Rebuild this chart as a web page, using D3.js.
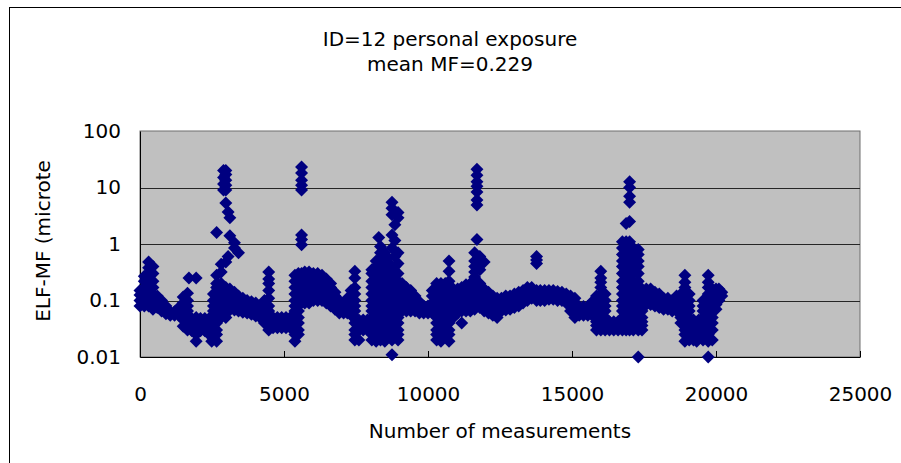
<!DOCTYPE html>
<html>
<head>
<meta charset="utf-8">
<script src="https://cdn.jsdelivr.net/npm/d3@7"></script>
<style>
  html, body { margin: 0; padding: 0; background: #fff; }
  svg { display: block; font-family: "DejaVu Sans", sans-serif; }
</style>
</head>
<body>
<svg id="chart" width="901" height="463"></svg>
<script>
// Text of the chart
const titleLines = ["ID=12 personal exposure", "mean MF=0.229"];
const xTitle = "Number of measurements";
const yTitle = "ELF-MF (microte";

// Axis ticks
const xTicks = [0, 5000, 10000, 15000, 20000, 25000];
const yTicks = [0.01, 0.1, 1, 10, 100];
const yTickLabels = ["0.01", "0.1", "1", "10", "100"];

// Recorded magnetic field readings (microtesla), grouped by measurement number:
// [measurement number, [readings logged around that number]]
const mfRun1 = [
  [0, [0.08, 0.1, 0.125, 0.15]],
  [150, [0.08, 0.1, 0.13, 0.17, 0.22, 0.27]],
  [300, [0.08, 0.1, 0.13, 0.17, 0.22, 0.3, 0.38, 0.48]],
  [450, [0.07, 0.085, 0.1, 0.13, 0.17, 0.22, 0.3, 0.4]],
  [600, [0.075, 0.095, 0.12]],
  [750, [0.065, 0.08, 0.1]],
  [900, [0.058, 0.07, 0.08]],
  [1050, [0.055, 0.063]],
  [1200, [0.055, 0.063]],
  [1350, [0.055, 0.065, 0.075]],
  [1500, [0.035, 0.045, 0.055, 0.07, 0.09, 0.115]],
  [1650, [0.03, 0.04, 0.05, 0.065, 0.08, 0.1, 0.135]],
  [1700, [0.25]],
  [1800, [0.029, 0.038, 0.048]],
  [1950, [0.019, 0.025, 0.03, 0.04, 0.05, 0.25]],
  [2100, [0.029, 0.038, 0.048]],
  [2250, [0.029, 0.038, 0.048]],
  [2400, [0.025, 0.03, 0.04, 0.048]],
  [2490, [0.019]],
  [2550, [0.025, 0.03, 0.04, 0.05, 0.065, 0.08, 0.1, 0.13]],
  [2660, [0.019, 0.025, 0.03, 0.04, 0.05, 0.065, 0.08, 0.1, 0.13, 0.17, 0.2, 0.28, 1.6]],
  [2820, [0.05, 0.065, 0.08, 0.1, 0.13, 0.17, 0.2, 0.32, 0.44]],
  [2900, [9, 11.5, 15, 20]],
  [2980, [0.05, 0.065, 0.08, 0.1, 0.13, 0.17, 0.48, 5.3, 9, 11, 13.5, 17, 20]],
  [3060, [3.7, 0.6]],
  [3120, [0.068, 0.085, 0.1, 0.13, 0.16, 1.4, 2.9]],
  [3280, [0.068, 0.085, 0.11, 0.14, 0.85, 1.05]],
  [3420, [0.065, 0.08, 0.1, 0.12, 0.7]],
  [3570, [0.062, 0.077, 0.095, 0.11]],
  [3720, [0.06, 0.075, 0.09, 0.1]],
  [3870, [0.057, 0.07, 0.085, 0.095]],
  [4020, [0.053, 0.065, 0.08, 0.09]],
  [4170, [0.05, 0.062, 0.075]],
  [4320, [0.04, 0.05, 0.065, 0.08, 0.1]],
  [4470, [0.03, 0.04, 0.05, 0.065, 0.08, 0.11, 0.15, 0.2, 0.24, 0.32]],
  [4620, [0.033, 0.04, 0.05]],
  [4770, [0.033, 0.04, 0.05]],
  [4920, [0.033, 0.04, 0.05]]
];

const mfRun2 = [
  [5070, [0.033, 0.04, 0.05]],
  [5220, [0.033, 0.04, 0.05]],
  [5380, [0.019, 0.025, 0.03, 0.04, 0.05, 0.065, 0.08, 0.1, 0.13, 0.17, 0.22, 0.28]],
  [5500, [0.025, 0.03, 0.04, 0.05, 0.065, 0.08, 0.1, 0.13, 0.17, 0.22, 0.3]],
  [5610, [0.1, 0.13, 0.17, 0.22, 0.3, 0.97, 1.2, 1.45, 9, 11, 13.5, 18, 23]],
  [5720, [0.09, 0.12, 0.15, 0.2, 0.26, 0.32]],
  [5870, [0.09, 0.12, 0.15, 0.2, 0.26, 0.32]],
  [6020, [0.1, 0.13, 0.17, 0.22, 0.3]],
  [6170, [0.1, 0.13, 0.17, 0.22, 0.3]],
  [6320, [0.1, 0.13, 0.17, 0.22, 0.28]],
  [6470, [0.09, 0.12, 0.15, 0.2, 0.24]],
  [6620, [0.08, 0.1, 0.13, 0.17, 0.2]],
  [6770, [0.07, 0.09, 0.12, 0.14]],
  [6920, [0.06, 0.075, 0.09, 0.1]],
  [7070, [0.06, 0.07, 0.082]],
  [7200, [0.06, 0.075, 0.09, 0.11]],
  [7330, [0.055, 0.07, 0.09, 0.12, 0.15]],
  [7460, [0.02, 0.025, 0.03, 0.04, 0.05, 0.065, 0.08, 0.1, 0.13, 0.17, 0.25, 0.33]],
  [7600, [0.02, 0.03, 0.037, 0.045]],
  [7750, [0.03, 0.037, 0.045]],
  [7900, [0.03, 0.037, 0.045]],
  [8050, [0.02, 0.025, 0.03, 0.04, 0.05, 0.065, 0.08, 0.1, 0.13, 0.17, 0.22, 0.3, 0.35]],
  [8200, [0.019, 0.025, 0.03, 0.04, 0.05, 0.065, 0.08, 0.1, 0.13, 0.17, 0.22, 0.3, 0.4, 0.5]],
  [8290, [1.3]],
  [8350, [0.02, 0.025, 0.03, 0.04, 0.05, 0.065, 0.08, 0.1, 0.13, 0.17, 0.22, 0.3, 0.4, 0.55, 0.7, 0.9]],
  [8500, [0.019, 0.025, 0.03, 0.04, 0.05, 0.065, 0.08, 0.1, 0.13, 0.17, 0.22, 0.3, 0.4, 0.5, 0.7]],
  [8630, [0.025, 0.03, 0.04, 0.05, 0.065, 0.08, 0.1, 0.13, 0.17, 0.22, 0.3, 0.37, 0.56]],
  [8750, [0.011, 0.02, 0.025, 0.03, 0.04, 0.05, 0.065, 0.08, 0.1, 0.13, 0.17, 0.22, 0.3, 0.4, 0.85, 1.45, 3.3, 4.3, 5.5]],
  [8850, [0.025, 0.03, 0.04, 0.05, 0.065, 0.08, 0.1, 0.13, 0.17, 0.22, 0.3, 0.4, 0.6, 1.15, 2.2]],
  [8960, [0.02, 0.025, 0.03, 0.04, 0.05, 0.065, 0.08, 0.1, 0.13, 0.17, 0.22, 0.3, 0.45, 0.7, 2.9, 3.6]],
  [9100, [0.065, 0.08, 0.1, 0.13, 0.17, 0.2]],
  [9250, [0.065, 0.08, 0.1, 0.13, 0.17]],
  [9400, [0.065, 0.08, 0.1, 0.13, 0.15]],
  [9550, [0.065, 0.08, 0.1, 0.12]],
  [9700, [0.06, 0.07, 0.08, 0.095]],
  [9850, [0.06, 0.07, 0.08]],
  [10000, [0.06, 0.07, 0.08]]
];

const mfRun3 = [
  [10150, [0.06, 0.075, 0.09, 0.12, 0.15]],
  [10300, [0.02, 0.025, 0.03, 0.04, 0.05, 0.065, 0.08, 0.1, 0.13, 0.17, 0.2]],
  [10450, [0.019, 0.025, 0.03, 0.04, 0.05, 0.065, 0.08, 0.1, 0.13, 0.17, 0.2]],
  [10600, [0.025, 0.03, 0.04, 0.05, 0.065, 0.08, 0.1, 0.13, 0.17, 0.2]],
  [10730, [0.019, 0.025, 0.03, 0.04, 0.05, 0.065, 0.08, 0.1, 0.13, 0.17, 0.22, 0.33, 0.5]],
  [10880, [0.05, 0.065, 0.08, 0.1, 0.13, 0.16]],
  [11030, [0.06, 0.08, 0.1, 0.13, 0.16]],
  [11170, [0.04, 0.065, 0.08, 0.1, 0.13, 0.17]],
  [11320, [0.065, 0.08, 0.1, 0.13, 0.17, 0.19]],
  [11470, [0.065, 0.08, 0.1, 0.13, 0.17, 0.2]],
  [11620, [0.07, 0.09, 0.12, 0.15, 0.2, 0.26, 0.32, 0.4, 0.5, 0.7]],
  [11700, [1.2, 4.9, 6.0, 8.3, 10.5, 12.6, 16.5, 21]],
  [11800, [0.075, 0.09, 0.12, 0.15, 0.2, 0.35, 0.45, 0.6]],
  [11950, [0.065, 0.08, 0.1, 0.13, 0.16, 0.48]],
  [12100, [0.06, 0.075, 0.09, 0.12, 0.14]],
  [12250, [0.055, 0.065, 0.08, 0.1, 0.12]],
  [12400, [0.05, 0.06, 0.075, 0.09, 0.11]],
  [12550, [0.065, 0.08, 0.1, 0.11]],
  [12700, [0.068, 0.08, 0.1, 0.12]],
  [12850, [0.07, 0.085, 0.1, 0.12]],
  [13000, [0.075, 0.09, 0.11, 0.13]],
  [13150, [0.08, 0.1, 0.12, 0.14]],
  [13300, [0.09, 0.11, 0.13, 0.15]],
  [13450, [0.1, 0.12, 0.14, 0.17]],
  [13600, [0.11, 0.13, 0.15, 0.17]],
  [13770, [0.1, 0.12, 0.15, 0.45, 0.52, 0.6]],
  [13900, [0.1, 0.12, 0.15]],
  [14050, [0.1, 0.12, 0.15]],
  [14200, [0.105, 0.125, 0.15]],
  [14350, [0.105, 0.125, 0.15]],
  [14500, [0.1, 0.12, 0.145]],
  [14650, [0.1, 0.12, 0.14]],
  [14800, [0.09, 0.11, 0.13]],
  [14950, [0.065, 0.08, 0.1, 0.12]]
];

const mfRun4 = [
  [15100, [0.05, 0.06, 0.075, 0.09, 0.11]],
  [15250, [0.055, 0.065, 0.078]],
  [15400, [0.055, 0.065, 0.078]],
  [15550, [0.055, 0.065, 0.078]],
  [15700, [0.055, 0.065, 0.08, 0.095]],
  [15850, [0.03, 0.036, 0.042, 0.05, 0.065, 0.08, 0.1, 0.12]],
  [16000, [0.03, 0.036, 0.042, 0.05, 0.065, 0.08, 0.1, 0.13, 0.17, 0.21, 0.25, 0.33]],
  [16150, [0.03, 0.036, 0.042, 0.05, 0.065, 0.08, 0.1, 0.13]],
  [16300, [0.03, 0.036, 0.042]],
  [16450, [0.03, 0.036, 0.042]],
  [16600, [0.03, 0.036, 0.042]],
  [16750, [0.03, 0.036, 0.042, 0.05, 0.065, 0.08, 0.1, 0.13, 0.17, 0.22, 0.3, 0.4, 0.5, 0.65, 0.85, 1.1]],
  [16880, [0.03, 0.036, 0.042, 0.05, 0.065, 0.08, 0.1, 0.13, 0.17, 0.22, 0.3, 0.4, 0.5, 0.65, 0.85, 1.1, 2.3]],
  [17000, [0.03, 0.036, 0.042, 0.05, 0.065, 0.08, 0.1, 0.13, 0.17, 0.22, 0.3, 0.4, 0.5, 0.65, 0.85, 1.1, 2.5, 5.5, 7, 10, 12.6]],
  [17130, [0.03, 0.036, 0.042, 0.05, 0.065, 0.08, 0.1, 0.13, 0.17, 0.22, 0.3, 0.4, 0.5, 0.65, 0.85]],
  [17300, [0.01, 0.03, 0.036, 0.042, 0.05, 0.065, 0.08, 0.1, 0.13, 0.17, 0.22, 0.3, 0.4, 0.5, 0.65, 0.8]],
  [17430, [0.03, 0.036, 0.042, 0.05, 0.065, 0.085, 0.1, 0.13, 0.16]],
  [17580, [0.085, 0.1, 0.13, 0.16]],
  [17730, [0.085, 0.1, 0.13, 0.16]],
  [17880, [0.08, 0.095, 0.11, 0.14]],
  [18030, [0.075, 0.09, 0.11, 0.13]],
  [18180, [0.07, 0.085, 0.1, 0.11]],
  [18330, [0.07, 0.085, 0.1, 0.11]],
  [18480, [0.065, 0.08, 0.1]],
  [18630, [0.065, 0.08, 0.1, 0.12]],
  [18780, [0.04, 0.05, 0.065, 0.08, 0.1, 0.13]],
  [18920, [0.019, 0.025, 0.03, 0.04, 0.05, 0.065, 0.08, 0.1, 0.13, 0.17, 0.21, 0.28]],
  [19070, [0.02, 0.025, 0.03, 0.04, 0.05, 0.065, 0.08, 0.1, 0.13]],
  [19220, [0.02, 0.025, 0.03, 0.035, 0.045]],
  [19330, [0.019]],
  [19400, [0.025, 0.03, 0.035, 0.045]],
  [19550, [0.02, 0.025, 0.03, 0.04, 0.05, 0.065, 0.08, 0.1]],
  [19730, [0.01, 0.019, 0.025, 0.03, 0.04, 0.05, 0.065, 0.08, 0.1, 0.13, 0.17, 0.21, 0.28]],
  [19870, [0.02, 0.03, 0.04, 0.05, 0.065, 0.08, 0.1, 0.13, 0.16]],
  [20000, [0.07, 0.085, 0.1, 0.13, 0.16]],
  [20100, [0.1, 0.13, 0.16]],
  [20200, [0.12, 0.14]]
];

// Flatten the grouped readings into individual points
const readings = [mfRun1, mfRun2, mfRun3, mfRun4]
  .flat()
  .flatMap(([n, values]) => values.map(v => ({ n, v })));

const svg = d3.select("#chart");
const plot = { left: 140, top: 131, right: 860, bottom: 357 };

const x = d3.scaleLinear().domain([0, 25000]).range([plot.left, plot.right]);
const y = d3.scaleLog().domain([0.01, 100]).range([plot.bottom, plot.top]);

// Chart frame
svg.append("rect")
  .attr("x", 9.5).attr("y", 7.5)
  .attr("width", 905).attr("height", 470)
  .attr("fill", "#fff").attr("stroke", "#000").attr("stroke-width", 1);

// Plot area background
svg.append("rect")
  .attr("x", plot.left).attr("y", plot.top)
  .attr("width", plot.right - plot.left).attr("height", plot.bottom - plot.top)
  .attr("fill", "#c0c0c0").attr("stroke", "#6e6e6e").attr("stroke-width", 1);

// Horizontal gridlines at each decade
svg.append("g")
  .selectAll("line")
  .data(yTicks.slice(1, -1))
  .join("line")
  .attr("x1", plot.left).attr("x2", plot.right)
  .attr("y1", d => Math.round(y(d)) + 0.5).attr("y2", d => Math.round(y(d)) + 0.5)
  .attr("stroke", "#262626").attr("stroke-width", 1);

// X axis: ticks point into the plot
const xAxis = d3.axisBottom(x)
  .tickValues(xTicks)
  .tickFormat(d3.format("d"))
  .tickSizeInner(-6)
  .tickSizeOuter(0)
  .tickPadding(30);

svg.append("g")
  .attr("transform", `translate(0,${plot.bottom})`)
  .call(xAxis)
  .call(g => g.select(".domain").attr("stroke", "#000"))
  .call(g => g.selectAll(".tick line").attr("stroke", "#000"))
  .call(g => g.selectAll("text").attr("font-size", 20).attr("fill", "#000")
    .attr("font-family", "DejaVu Sans"));

// Y axis: log scale, labels only
const yAxis = d3.axisLeft(y)
  .tickValues(yTicks)
  .tickFormat((d, i) => yTickLabels[i])
  .tickSize(0)
  .tickPadding(19);

svg.append("g")
  .attr("transform", `translate(${plot.left},0)`)
  .call(yAxis)
  .call(g => g.select(".domain").attr("stroke", "#000"))
  .call(g => g.selectAll("text").attr("font-size", 20).attr("fill", "#000")
    .attr("font-family", "DejaVu Sans"));

// Readings as navy diamonds
const diamond = d3.symbol().type(d3.symbolSquare).size(84);
svg.append("g")
  .selectAll("path")
  .data(readings)
  .join("path")
  .attr("d", diamond)
  .attr("transform", d => `translate(${x(d.n)},${y(d.v)}) rotate(45)`)
  .attr("fill", "#000080");

// Titles
svg.append("g")
  .selectAll("text")
  .data(titleLines)
  .join("text")
  .attr("x", 450)
  .attr("y", (d, i) => 46 + i * 25)
  .attr("text-anchor", "middle")
  .attr("font-size", 20)
  .attr("fill", "#000")
  .text(d => d);

svg.append("text")
  .attr("x", (plot.left + plot.right) / 2)
  .attr("y", 438)
  .attr("text-anchor", "middle")
  .attr("font-size", 20)
  .attr("fill", "#000")
  .text(xTitle);

svg.append("text")
  .attr("transform", `translate(50,${(plot.top + plot.bottom) / 2 - 3}) rotate(-90)`)
  .attr("text-anchor", "middle")
  .attr("font-size", 20)
  .attr("fill", "#000")
  .text(yTitle);
</script>
</body>
</html>
